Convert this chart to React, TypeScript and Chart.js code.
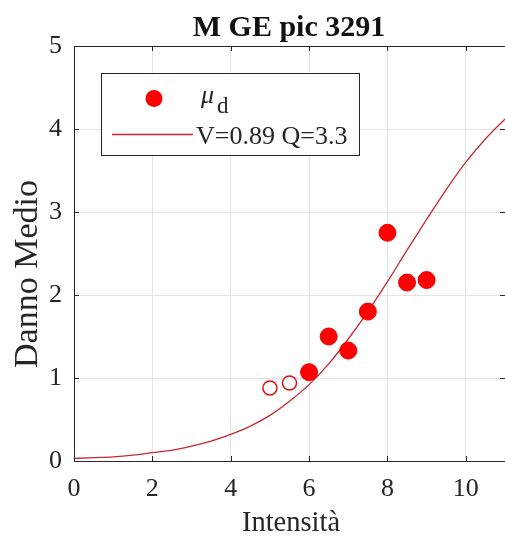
import React, { useEffect, useRef } from "react";
import { Chart, registerables } from "chart.js";

Chart.register(...registerables);

const TITLE = "M GE pic 3291";
const X_LABEL = "Intensità";
const Y_LABEL = "Danno Medio";
const LEGEND_MARKER_MAIN = "μ";
const LEGEND_MARKER_SUB = "d";
const LEGEND_LINE = "V=0.89 Q=3.3";

const obsIntensity = [6, 6.5, 7, 7.5, 8, 8.5, 9];
const obsDamage = [1.07, 1.5, 1.33, 1.8, 2.75, 2.15, 2.18];
const openIntensity = [5, 5.5];
const openDamage = [0.88, 0.94];
const curveIntensity = [0, 0.5, 1, 1.5, 2, 2.5, 3, 3.5, 4, 4.5, 5, 5.5, 6, 6.5, 7, 7.5, 8, 8.5, 9, 9.5, 10, 10.5, 11];
const curveDamage = [0.03, 0.04, 0.05, 0.07, 0.1, 0.13, 0.18, 0.24, 0.32, 0.42, 0.55, 0.72, 0.92, 1.17, 1.47, 1.8, 2.16, 2.54, 2.91, 3.27, 3.6, 3.88, 4.12];
const xTicks = [0, 2, 4, 6, 8, 10];
const yTicks = [0, 1, 2, 3, 4, 5];

const SERIF = "'Liberation Serif', 'Times New Roman', serif";
const AXIS = "#262626";
const RED = "#ff0000";
const LINE_RED = "#c62a32";

const zeroPad = (s: any) => {
  s.paddingLeft = 0;
  s.paddingRight = 0;
  s.paddingTop = 0;
  s.paddingBottom = 0;
};

const decorPlugin = {
  id: "decor",
  afterDraw(chart: any) {
    const ctx = chart.ctx as CanvasRenderingContext2D;
    const a = chart.chartArea;
    const xs = chart.scales.x;
    const ys = chart.scales.y;
    ctx.save();
    // top border
    ctx.strokeStyle = AXIS;
    ctx.lineWidth = 1;
    ctx.beginPath();
    ctx.moveTo(a.left, Math.round(a.top) + 0.5);
    ctx.lineTo(a.right, Math.round(a.top) + 0.5);
    ctx.stroke();
    // inward tick marks
    const tl = 5;
    ctx.beginPath();
    xTicks.forEach((v) => {
      const px = Math.round(xs.getPixelForValue(v)) + 0.5;
      ctx.moveTo(px, a.bottom);
      ctx.lineTo(px, a.bottom - tl);
      ctx.moveTo(px, a.top);
      ctx.lineTo(px, a.top + tl);
    });
    yTicks.forEach((v) => {
      const py = Math.round(ys.getPixelForValue(v)) + 0.5;
      ctx.moveTo(a.left, py);
      ctx.lineTo(a.left + tl, py);
      ctx.moveTo(a.right, py);
      ctx.lineTo(a.right - tl, py);
    });
    ctx.stroke();

    // title
    ctx.fillStyle = "#111111";
    ctx.font = `bold 30px ${SERIF}`;
    ctx.textAlign = "center";
    ctx.textBaseline = "alphabetic";
    ctx.fillText(TITLE, 289, 36);

    // x label
    ctx.fillStyle = AXIS;
    ctx.font = `28.5px ${SERIF}`;
    ctx.fillText(X_LABEL, 291, 531);

    // y label
    ctx.save();
    ctx.translate(37, 274);
    ctx.rotate(-Math.PI / 2);
    ctx.font = `34px ${SERIF}`;
    ctx.textAlign = "center";
    ctx.textBaseline = "alphabetic";
    ctx.fillText(Y_LABEL, 0, 0);
    ctx.restore();

    // legend box
    ctx.fillStyle = "#ffffff";
    ctx.fillRect(102, 73, 257, 82);
    ctx.strokeStyle = AXIS;
    ctx.lineWidth = 1;
    ctx.strokeRect(101.5, 73.5, 258, 82);
    // marker entry
    ctx.fillStyle = RED;
    ctx.beginPath();
    ctx.arc(154, 98.5, 8.5, 0, Math.PI * 2);
    ctx.fill();
    ctx.fillStyle = AXIS;
    ctx.textAlign = "left";
    ctx.font = `italic 26px ${SERIF}`;
    ctx.fillText(LEGEND_MARKER_MAIN, 201, 103);
    ctx.font = `23px ${SERIF}`;
    ctx.fillText(LEGEND_MARKER_SUB, 217, 113);
    // line entry
    ctx.strokeStyle = LINE_RED;
    ctx.lineWidth = 1.3;
    ctx.beginPath();
    ctx.moveTo(112, 134.5);
    ctx.lineTo(193, 134.5);
    ctx.stroke();
    ctx.font = `26px ${SERIF}`;
    ctx.fillStyle = AXIS;
    ctx.fillText(LEGEND_LINE, 196, 144);
    ctx.restore();
  },
};

export default function App() {
  const ref = useRef<HTMLCanvasElement | null>(null);
  useEffect(() => {
    if (!ref.current) return;
    const chart = new Chart(ref.current, {
      type: "scatter",
      data: {
        datasets: [
          {
            label: "open",
            data: openIntensity.map((x, i) => ({ x, y: openDamage[i] })),
            pointRadius: 7,
            pointBackgroundColor: "#ffffff",
            pointBorderColor: "#e01010",
            pointBorderWidth: 1.5,
            showLine: false,
          },
          {
            label: "mu",
            data: obsIntensity.map((x, i) => ({ x, y: obsDamage[i] })),
            pointRadius: 8.5,
            pointBackgroundColor: RED,
            pointBorderColor: "#ee0000",
            pointBorderWidth: 1,
            showLine: false,
          },
          {
            label: "curve",
            type: "line",
            data: curveIntensity.map((x, i) => ({ x, y: curveDamage[i] })),
            borderColor: LINE_RED,
            borderWidth: 1.3,
            pointRadius: 0,
            showLine: true,
            fill: false,
            cubicInterpolationMode: "monotone",
          } as any,
        ],
      },
      options: {
        responsive: false,
        animation: false,
        devicePixelRatio: 1,
        layout: { autoPadding: false, padding: { top: 46, left: 0, right: 0, bottom: 0 } },
        plugins: {
          legend: { display: false },
          title: { display: false },
          tooltip: { enabled: false },
        },
        scales: {
          x: {
            type: "linear",
            min: 0,
            max: 11,
            afterBuildTicks: (s: any) => {
              s.ticks = xTicks.map((v) => ({ value: v }));
            },
            afterFit: (s: any) => {
              s.height = 78;
              zeroPad(s);
            },
            grid: { color: "#e3e3e3", drawTicks: false, lineWidth: 1 },
            border: { display: true, color: AXIS, width: 1 },
            ticks: {
              font: { family: SERIF, size: 26 },
              color: AXIS,
              padding: 13,
              maxRotation: 0,
              autoSkip: false,
            },
          },
          y: {
            type: "linear",
            min: 0,
            max: 5,
            afterBuildTicks: (s: any) => {
              s.ticks = yTicks.map((v) => ({ value: v }));
            },
            afterFit: (s: any) => {
              s.width = 74;
              zeroPad(s);
            },
            grid: { color: "#e3e3e3", drawTicks: false, lineWidth: 1 },
            border: { display: true, color: AXIS, width: 1 },
            ticks: {
              font: { family: SERIF, size: 26 },
              color: AXIS,
              padding: 12,
            },
          },
        },
      },
      plugins: [decorPlugin],
    });
    return () => chart.destroy();
  }, []);
  return (
    <div style={{ position: "fixed", left: 0, top: 0, width: 505, height: 539, background: "#ffffff" }}>
      <canvas ref={ref} width={505} height={539} style={{ display: "block" }} />
    </div>
  );
}
